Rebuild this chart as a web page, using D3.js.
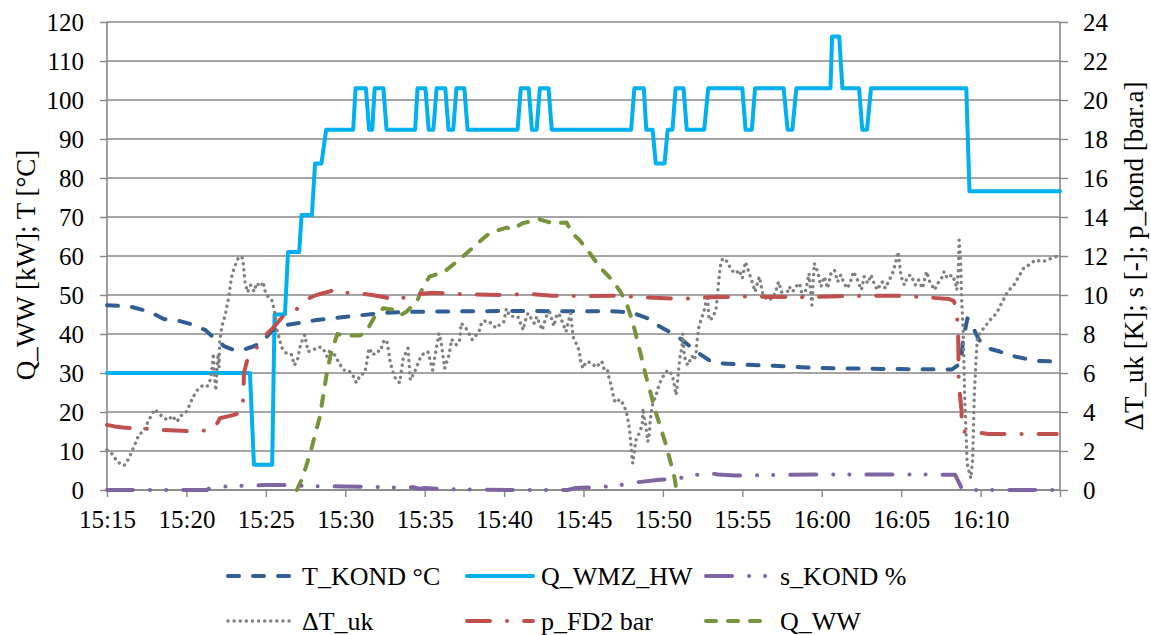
<!DOCTYPE html>
<html>
<head>
<meta charset="utf-8">
<script src="https://cdn.jsdelivr.net/npm/d3@7"></script>
<style>
body { margin: 0; background: #fff; }
</style>
</head>
<body>
<svg></svg>
<script>
"use strict";

// minutes after 15:15, value
var tKond = [[0,47.4],[1.5,47],[2.7,45.7],[3.6,43.8],[4.6,43.3],[5.5,42.3],[6.2,41],[6.6,39.5],[6.9,38.5],[7.1,37.8],[7.4,36.8],[8.0,35.9],[8.6,36.0],[9.2,36.8],[9.8,38],[10.4,41],[11.3,42.3],[13.2,43.6],[15.5,44.6],[17.4,45.4],[19.3,45.7],[25,45.9],[32.1,45.8],[33.1,45.4],[34.0,44.1],[34.8,41.9],[35.8,39.7],[36.2,38.5],[37.1,35.5],[37.9,33.3],[38.6,32.5],[40.3,32.1],[42.3,31.8],[44,31.4],[46.1,31.2],[50,31],[53.2,30.9],[53.75,32.5],[53.9,38.5],[54.17,44.0],[54.5,41.9],[54.9,38.5],[55.5,36.3],[56.2,35.5],[57.2,34.2],[58.5,33.1],[60,32.9]];

var qWmzHw = [[0,30],[9.0,30],[9.25,6.5],[10.4,6.5],[10.55,45],[11.2,45],[11.4,61],[12.1,61],[12.25,70.5],[12.9,70.5],[13.1,83.7],[13.5,83.7],[13.8,92.4],[15.5,92.4],[15.65,103],[16.3,103],[16.5,92.4],[16.7,92.4],[16.85,103],[17.4,103],[17.6,92.4],[19.4,92.4],[19.55,103],[20.05,103],[20.25,92.4],[20.55,92.4],[20.75,103],[21.3,103],[21.5,92.4],[21.8,92.4],[22.0,103],[22.5,103],[22.7,92.4],[25.85,92.4],[26.05,103],[26.55,103],[26.75,92.4],[27.05,92.4],[27.25,103],[27.8,103],[28.0,92.4],[33.0,92.4],[33.2,103],[33.8,103],[33.95,92.4],[34.35,92.4],[34.55,83.7],[35.1,83.7],[35.3,92.4],[35.6,92.4],[35.8,103],[36.3,103],[36.5,92.4],[37.6,92.4],[37.85,103],[40.0,103],[40.2,92.4],[40.6,92.4],[40.8,103],[42.6,103],[42.85,92.4],[43.15,92.4],[43.4,103],[45.55,103],[45.65,116.3],[46.1,116.3],[46.3,103],[47.35,103],[47.55,92.4],[47.85,92.4],[48.1,103],[54.1,103],[54.3,76.6],[60,76.6]];

var qWw = [[11.95,0],[12.3,3],[12.8,9.5],[13.4,18.8],[13.84,30],[14.1,35],[14.5,40],[15.0,39.6],[15.9,39.6],[16.3,40.5],[16.85,44.4],[17.4,46.6],[18.1,46.2],[18.5,44.9],[18.85,45.7],[19.5,48.3],[19.9,52],[20.3,54.7],[21.25,56],[21.76,57.7],[22.64,60.7],[23.46,63.7],[24.1,65.9],[25.16,67.3],[25.5,66.8],[26.16,68.4],[27.23,69.4],[28.05,68.4],[28.93,68.6],[29.3,65.8],[29.75,64.1],[30.4,60.7],[31.0,57.3],[31.8,53.8],[32.3,51],[32.7,48],[33.1,43],[33.5,36.5],[33.94,29.1],[34.57,19.7],[35.2,11.5],[35.72,3.4],[35.85,0]];

// right axis series
var sKond = [[0,0],[6.3,0],[6.5,0.12],[7,0.16],[8,0.2],[9.5,0.24],[10,0.26],[11.5,0.26],[12,0.22],[13,0.2],[15,0.18],[16,0.17],[17.5,0.15],[18.5,0.12],[19.3,0.14],[19.7,0.06],[20,0.1],[21,0.06],[22,0.03],[23,0.02],[26,0],[29,0],[29.5,0.1],[30.5,0.14],[32,0.2],[33.2,0.38],[34.8,0.52],[36,0.6],[37,0.76],[37.9,0.86],[38.5,0.8],[39.5,0.74],[41,0.76],[43,0.78],[46,0.8],[50,0.8],[53.4,0.78],[53.86,0],[60,0]];

var dTuk = [[0,2.05],[0.4,1.8],[0.63,1.45],[1.07,1.25],[1.38,1.62],[1.6,2.05],[1.82,2.45],[2.0,2.85],[2.3,3.0],[2.5,3.37],[2.75,3.76],[3.0,4.14],[3.3,3.9],[3.6,3.67],[3.9,3.59],[4.1,3.81],[4.4,3.5],[4.65,3.81],[4.97,3.97],[5.2,4.36],[5.4,4.75],[5.7,5.13],[6.0,5.35],[6.3,5.3],[6.5,5.64],[6.6,6.2],[6.7,7.0],[6.75,6.0],[6.85,5.1],[6.95,6.5],[7.0,7.0],[7.05,6.3],[7.1,7.6],[7.2,8.2],[7.3,8.6],[7.45,8.97],[7.57,9.5],[7.67,9.9],[7.74,10.34],[7.8,10.7],[7.9,11.14],[8.1,11.57],[8.3,11.97],[8.53,11.9],[8.6,11.45],[8.65,11.0],[8.7,10.6],[8.85,10.14],[9.04,10.5],[9.27,10.17],[9.4,10.6],[9.7,10.43],[9.83,10.68],[9.96,10.17],[10.15,9.9],[10.36,9.78],[10.45,9.5],[10.6,8.97],[10.7,8.2],[11.0,7.3],[11.3,7.0],[11.6,6.96],[11.8,6.4],[12.0,6.7],[12.2,7.5],[12.45,7.95],[12.66,7.1],[13.0,7.18],[13.3,7.35],[13.6,7.27],[13.85,6.84],[14.0,7.1],[14.34,6.92],[14.6,6.53],[14.9,6.15],[15.2,6.15],[15.5,5.85],[15.7,5.5],[15.95,5.9],[16.2,5.98],[16.33,6.4],[16.5,7.27],[16.75,6.92],[16.96,7.13],[17.2,7.1],[17.4,7.6],[17.6,7.7],[17.7,7.27],[17.84,6.5],[18.0,6.07],[18.2,5.64],[18.43,5.5],[18.65,6.75],[18.95,7.27],[19.1,5.64],[19.37,6.07],[19.58,6.5],[19.8,6.92],[20.2,7.1],[20.5,6.15],[20.7,7.1],[20.9,8.03],[21.05,7.5],[21.26,6.24],[21.53,6.92],[21.7,7.73],[22.0,7.44],[22.2,7.7],[22.3,8.55],[22.6,8.3],[23.0,7.7],[23.25,7.95],[23.46,8.2],[23.6,8.63],[24.0,8.68],[24.5,8.3],[24.7,8.46],[24.97,8.58],[25.14,9.3],[25.35,8.92],[25.66,8.89],[25.87,8.89],[26.2,8.2],[26.35,8.72],[26.5,9.06],[26.7,8.8],[26.9,8.55],[27.06,8.89],[27.23,8.55],[27.4,8.2],[27.65,8.89],[27.86,9.14],[28.13,8.4],[28.28,8.89],[28.45,9.06],[28.66,8.63],[28.9,8.12],[29.07,8.72],[29.2,9.06],[29.3,8.2],[29.37,7.78],[29.54,7.52],[29.75,7.1],[29.8,6.67],[29.96,6.24],[30.17,6.58],[30.48,6.53],[30.8,6.29],[31.15,6.6],[31.3,6.19],[31.5,6.19],[31.6,5.78],[31.74,5.38],[31.84,4.96],[32.0,4.48],[32.3,4.65],[32.5,4.41],[32.7,4.02],[32.8,3.59],[32.9,3.11],[32.95,2.65],[33.0,2.22],[33.05,1.71],[33.1,1.37],[33.3,2.56],[33.5,2.9],[33.7,3.33],[33.75,4.19],[33.8,3.76],[33.94,3.25],[34.05,2.48],[34.15,2.9],[34.2,3.59],[34.36,4.44],[34.57,4.87],[34.78,5.44],[35.0,5.81],[35.3,6.15],[35.57,5.93],[35.7,5.47],[35.83,4.87],[35.93,5.64],[36.0,6.32],[36.08,6.84],[36.2,7.35],[36.25,8.03],[36.35,6.84],[36.56,6.4],[36.83,6.87],[37.0,6.67],[37.1,7.1],[37.13,7.52],[37.25,8.3],[37.4,8.72],[37.6,9.23],[37.7,9.57],[37.82,9.83],[37.9,8.72],[38.1,8.8],[38.34,9.23],[38.5,10.6],[38.6,11.45],[38.76,11.88],[39.07,11.7],[39.3,11.28],[39.6,11.1],[39.8,11.28],[40.0,10.86],[40.2,11.7],[40.4,11.2],[40.65,10.6],[40.8,10.17],[41.07,10.94],[41.17,10.51],[41.3,10.0],[41.6,9.74],[41.9,9.83],[42.1,10.17],[42.28,10.68],[42.5,10.09],[42.74,9.91],[42.95,10.43],[43.16,10.17],[43.37,10.43],[43.6,10.6],[43.8,9.91],[44.0,10.26],[44.2,11.1],[44.38,9.49],[44.53,11.63],[44.74,11.2],[44.95,10.43],[45.16,10.94],[45.37,10.34],[45.58,11.1],[45.8,11.28],[46.0,10.68],[46.2,11.03],[46.4,10.6],[46.62,10.34],[46.84,10.77],[47.0,11.2],[47.25,10.77],[47.5,10.26],[47.67,10.94],[47.9,10.6],[48.1,11.03],[48.3,10.6],[48.5,10.26],[48.8,10.68],[49.0,10.34],[49.25,10.77],[49.5,11.2],[49.66,11.7],[49.8,12.22],[50.0,10.94],[50.2,10.51],[50.4,10.94],[50.6,11.03],[50.9,10.51],[51.1,10.77],[51.34,10.34],[51.6,11.2],[51.8,10.68],[52.1,10.26],[52.3,10.6],[52.5,10.77],[52.7,11.2],[52.9,10.86],[53.2,11.03],[53.4,10.68],[53.5,10.26],[53.6,11.28],[53.65,12.82],[53.75,11.63],[53.8,9.91],[53.9,8.2],[53.95,6.5],[54.0,4.79],[54.08,3.08],[54.15,1.37],[54.38,0.6],[54.5,1.54],[54.55,3.08],[54.6,4.79],[54.7,6.5],[54.8,7.86],[55.2,8.3],[55.6,8.72],[56.0,9.06],[56.37,9.66],[56.7,10.17],[57.1,10.51],[57.4,10.94],[57.7,11.37],[58.05,11.54],[58.47,11.8],[58.9,11.7],[59.3,11.83],[59.75,11.97]];

var pFd2 = [[0,3.34],[0.5,3.26],[1,3.2],[1.5,3.17],[2.2,3.16],[3,3.1],[4,3.06],[5,3.02],[6.6,3.06],[7.0,3.5],[7.1,3.68],[8,3.85],[8.5,4.0],[8.55,4.36],[8.6,5.1],[8.62,6.0],[8.87,6.8],[9.43,7.3],[9.8,7.8],[10.44,8.3],[11.07,8.9],[11.8,9.14],[12.45,9.74],[13.2,10.0],[14.5,10.3],[15,10.12],[15.9,10.08],[16.7,10.0],[18.4,9.74],[19,10.0],[20.5,10.12],[22.5,10.04],[25,10.0],[26.5,10.06],[28,9.96],[30,9.94],[32,9.96],[33.5,9.9],[36,9.8],[38,9.88],[40,9.92],[44,9.88],[46,9.94],[48,9.96],[50,9.96],[53.0,9.8],[53.3,9.7],[53.45,9.4],[53.52,8.9],[53.58,8.2],[53.6,7.35],[53.62,5.74],[53.7,4.87],[53.8,4.1],[53.82,3.08],[53.9,2.99],[54.5,2.99],[55.5,2.87],[59.8,2.87]];

var xTickLabels = ["15:15","15:20","15:25","15:30","15:35","15:40","15:45","15:50","15:55","16:00","16:05","16:10"];
var leftTicks = [0,10,20,30,40,50,60,70,80,90,100,110,120];
var rightTicks = [0,2,4,6,8,10,12,14,16,18,20,22,24];

var serif = "'Liberation Serif', 'Times New Roman', 'DejaVu Serif', serif";

var svg = d3.select("svg").attr("width", 1151).attr("height", 635)
  .style("font-family", serif);

var plotLeft = 107, plotRight = 1060, plotTop = 22, plotBottom = 490;
var grey = "#878787";

var parse = d3.timeParse("%H:%M");
var t0 = parse("15:15");
function toDate(m) { return new Date(t0.getTime() + m * 60000); }

var x = d3.scaleTime().domain([t0, parse("16:15")]).range([plotLeft, plotRight]);
var yL = d3.scaleLinear().domain([0, 120]).range([plotBottom, plotTop]);
var yR = d3.scaleLinear().domain([0, 24]).range([plotBottom, plotTop]);

// gridlines
svg.append("g").selectAll("line").data(leftTicks).enter().append("line")
  .attr("x1", plotLeft).attr("x2", plotRight)
  .attr("y1", function (d) { return yL(d); }).attr("y2", function (d) { return yL(d); })
  .attr("stroke", grey).attr("stroke-width", 1.4);

// axes
var gl = svg.append("g").attr("transform", "translate(" + plotLeft + ",0)")
  .call(d3.axisLeft(yL).tickValues(leftTicks).tickSize(7).tickPadding(16));
var gr = svg.append("g").attr("transform", "translate(" + plotRight + ",0)")
  .call(d3.axisRight(yR).tickValues(rightTicks).tickSize(8).tickPadding(15));
var xTicks = xTickLabels.map(parse).concat([parse("16:15")]);
var gx = svg.append("g").attr("transform", "translate(0," + plotBottom + ")")
  .call(d3.axisBottom(x).tickValues(xTicks).tickSize(7).tickPadding(13)
    .tickFormat(function (d) { var s = d3.timeFormat("%H:%M")(d); return xTickLabels.indexOf(s) >= 0 ? s : ""; }));

[gl, gr, gx].forEach(function (g) {
  g.attr("font-family", serif).attr("font-size", 25);
  g.select(".domain").attr("stroke", grey).attr("stroke-width", 1.6);
  g.selectAll(".tick line").attr("stroke", grey).attr("stroke-width", 1.4);
  g.selectAll("text").style("font-family", serif).style("font-size", "25px").attr("fill", "#000");
});
gl.select(".domain").attr("d", "M0," + plotBottom + "V" + plotTop);
gr.select(".domain").attr("d", "M0," + plotBottom + "V" + plotTop);
gx.select(".domain").attr("d", "M" + plotLeft + ",0H" + plotRight);

// axis titles
svg.append("text").attr("transform", "translate(35,265) rotate(-90)")
  .attr("text-anchor", "middle").style("font-family", serif).style("font-size", "27px")
  .text("Q_WW [kW]; T [°C]");
svg.append("text").attr("transform", "translate(1143,256) rotate(-90)")
  .attr("text-anchor", "middle").style("font-family", serif).style("font-size", "27px")
  .text("ΔT_uk [K]; s [-]; p_kond [bar.a]");

// series
var series = [
  { name: "Q_WMZ_HW", data: qWmzHw, y: yL, color: "#00B0F0", dash: null, w: 4, col: 1, row: 0 },
  { name: "T_KOND °C", data: tKond, y: yL, color: "#2F5D94", dash: "11,14", w: 4, col: 0, row: 0 },
  { name: "ΔT_uk", data: dTuk, y: yR, color: "#808080", dash: "0.1,6", w: 3.4, col: 0, row: 1 },
  { name: "Q_WW", data: qWw, y: yL, color: "#77933C", dash: "10,12", w: 4, col: 2, row: 1 },
  { name: "s_KOND %", data: sKond, y: yR, color: "#8064A2", dash: "26,17,0.1,16,0.1,17", w: 4, col: 2, row: 0 },
  { name: "p_FD2 bar", data: pFd2, y: yR, color: "#C0504D", dash: "23,17,0.1,17", w: 4, col: 1, row: 1 }
];

series.forEach(function (s) {
  var line = d3.line()
    .x(function (d) { return x(toDate(d[0])); })
    .y(function (d) { return s.y(d[1]); });
  svg.append("path").datum(s.data)
    .attr("d", line)
    .attr("fill", "none")
    .attr("stroke", s.color)
    .attr("stroke-width", s.w)
    .attr("stroke-linecap", "round")
    .attr("stroke-linejoin", "round")
    .attr("stroke-dasharray", s.dash);
});

// legend
var colX = [228, 467, 706], rowY = [576, 621];
var leg = svg.append("g");
series.forEach(function (s) {
  var lx = colX[s.col], ly = rowY[s.row];
  leg.append("line").attr("x1", lx).attr("x2", lx + 66).attr("y1", ly).attr("y2", ly)
    .attr("stroke", s.color).attr("stroke-width", s.w)
    .attr("stroke-linecap", "round").attr("stroke-dasharray", s.dash);
  leg.append("text").attr("x", lx + 74).attr("y", ly).attr("dy", "0.35em")
    .style("font-family", serif).style("font-size", "26px").text(s.name);
});
</script>
</body>
</html>
